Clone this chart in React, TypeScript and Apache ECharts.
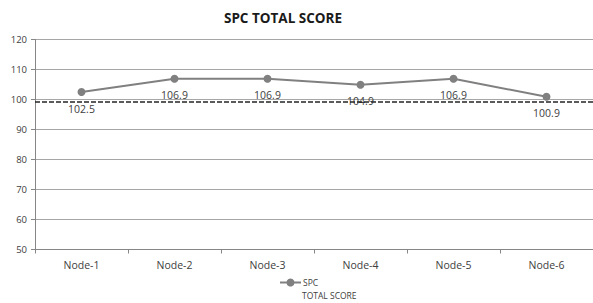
import React, { useEffect, useRef } from "react";
import * as echarts from "echarts";

const categories = ["Node-1", "Node-2", "Node-3", "Node-4", "Node-5", "Node-6"];
const spcValues = [102.5, 106.9, 106.9, 104.9, 106.9, 100.9];
const thresholdValue = 99.2;
const yMin = 50;
const yMax = 120;
const yInterval = 10;

export default function App() {
  const ref = useRef<HTMLDivElement>(null);
  useEffect(() => {
    if (!ref.current) return;
    const chart = echarts.init(ref.current, undefined, { renderer: "svg" });
    const font = "'Open Sans', sans-serif";
    chart.setOption({
      animation: false,
      backgroundColor: "#ffffff",
      title: {
        text: "SPC TOTAL SCORE",
        left: 278,
        textAlign: "center",
        top: 6,
        textStyle: { fontFamily: font, fontSize: 13.5, fontWeight: "bold", color: "#1a1a1a" },
      },
      grid: { left: 35, top: 39.5, width: 560, bottom: 53.5, containLabel: false },
      legend: {
        left: 279,
        top: 278,
        padding: 0,
        itemWidth: 21,
        itemHeight: 10,
        data: ["SPC"],
        formatter: () => "SPC",
        textStyle: { fontFamily: font, fontSize: 8.5, color: "#404040", padding: [0, 0, 0, -3] },
      },
      graphic: [
        {
          type: "text",
          x: 302,
          y: 295.5,
          style: {
            text: "TOTAL SCORE",
            fontFamily: font,
            fontSize: 8.5,
            fill: "#404040",
            verticalAlign: "middle",
            align: "left",
          },
        },
      ],
      xAxis: {
        type: "category",
        data: categories,
        boundaryGap: true,
        axisLine: { lineStyle: { color: "#868686", width: 1 } },
        axisTick: { show: true, length: 4, lineStyle: { color: "#868686" } },
        axisLabel: { fontFamily: font, fontSize: 10.5, color: "#404040", margin: 10 },
        splitLine: { show: false },
      },
      yAxis: {
        type: "value",
        min: yMin,
        max: yMax,
        interval: yInterval,
        axisLine: { show: true, lineStyle: { color: "#868686", width: 1 } },
        axisTick: { show: true, length: 4, lineStyle: { color: "#868686" } },
        axisLabel: { fontFamily: font, fontSize: 9.5, color: "#404040", margin: 8 },
        splitLine: { show: true, lineStyle: { color: "#a6a6a6", width: 1 } },
      },
      series: [
        {
          name: "SPC",
          type: "line",
          data: spcValues,
          symbol: "circle",
          symbolSize: 8,
          itemStyle: { color: "#808080" },
          lineStyle: { color: "#808080", width: 2 },
          label: {
            show: true,
            position: "bottom",
            distance: 7,
            fontFamily: font,
            fontSize: 10.5,
            color: "#404040",
            formatter: (p: any) => p.value.toFixed(1),
          },
          markLine: {
            silent: true,
            symbol: ["none", "none"],
            label: { show: false },
            lineStyle: { color: "#262626", type: [5, 2], width: 1.5 },
            data: [{ yAxis: thresholdValue }],
          },
        },
      ],
    });
    return () => chart.dispose();
  }, []);
  return (
    <div
      ref={ref}
      style={{ position: "absolute", left: 0, top: 0, width: 593, height: 303, overflow: "hidden" }}
    />
  );
}
